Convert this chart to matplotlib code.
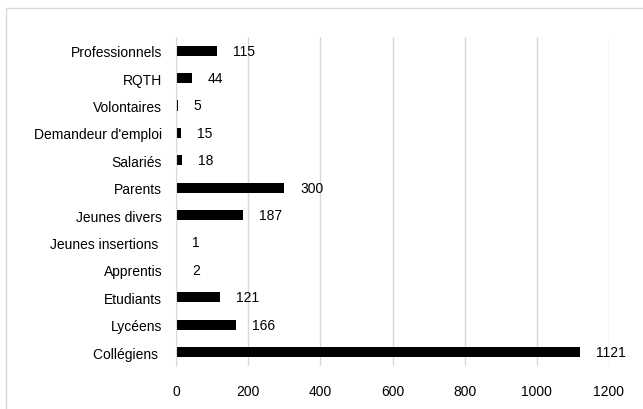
import matplotlib
matplotlib.use("Agg")
import matplotlib.pyplot as plt
from matplotlib.patches import Rectangle

categories = ["Collégiens ", "Lycéens", "Etudiants", "Apprentis", "Jeunes insertions ",
              "Jeunes divers", "Parents", "Salariés", "Demandeur d'emploi", "Volontaires",
              "RQTH", "Professionnels"]
values = [1121, 166, 121, 2, 1, 187, 300, 18, 15, 5, 44, 115]
xticks = [0, 200, 400, 600, 800, 1000, 1200]

plt.rcParams["font.family"] = ["Liberation Sans", "DejaVu Sans"]

W, H = 643, 410
fig = plt.figure(figsize=(W / 100, H / 100), dpi=100, facecolor="#fff")

# outer chart border (Excel style), cropped at right and bottom in the source
fig.patches.append(Rectangle((6 / W, 1 - 420 / H), (660 - 6) / W, (420 - 9) / H,
                             transform=fig.transFigure, fill=False,
                             edgecolor="#d9d9d9", linewidth=1))

ax = fig.add_axes([176 / W, 1 - 366.7 / H, (609 - 176) / W, (366.7 - 38) / H])
y = range(len(categories))
ax.barh(y, values, height=0.37, color="#000")
for yi, v in zip(y, values):
    ax.annotate(str(v), (v, yi), xytext=(11.5, 0), textcoords="offset points",
                ha="left", va="center", fontsize=10, color="#000")

ax.set_xlim(0, 1200)
ax.set_ylim(-0.5, len(categories) - 0.5)
ax.set_xticks(xticks)
ax.set_yticks(list(y))
ax.set_yticklabels(categories)
ax.grid(axis="x", color="#d9d9d9", linewidth=1)
ax.set_axisbelow(True)
for s in ["top", "right", "bottom"]:
    ax.spines[s].set_visible(False)
ax.spines["left"].set_color("#d9d9d9")
ax.tick_params(length=0, labelsize=10, colors="#000")
ax.tick_params(axis="x", pad=13)
ax.tick_params(axis="y", pad=10)

fig.savefig("out.png", dpi=100, facecolor="#fff")
